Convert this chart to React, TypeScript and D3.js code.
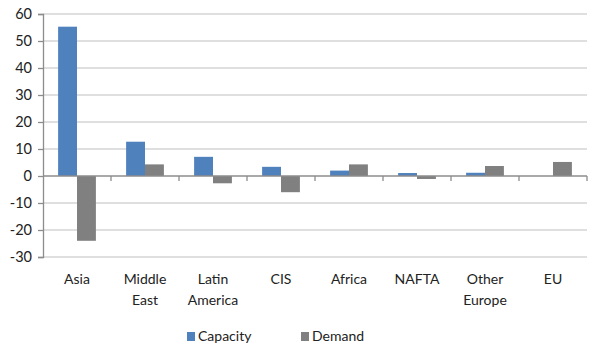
import { useEffect, useRef } from 'react';
import * as d3 from 'd3';

const regions = ['Asia', 'Middle East', 'Latin America', 'CIS', 'Africa', 'NAFTA', 'Other Europe', 'EU'];
const regionLines = [['Asia'], ['Middle', 'East'], ['Latin', 'America'], ['CIS'], ['Africa'], ['NAFTA'], ['Other', 'Europe'], ['EU']];
const capacity = [55.3, 12.7, 7.1, 3.4, 2.0, 1.1, 1.2, 0];
const demand = [-24, 4.3, -2.7, -6, 4.3, -1.1, 3.7, 5.2];
const yTicks = [-30, -20, -10, 0, 10, 20, 30, 40, 50, 60];
const seriesNames = ['Capacity', 'Demand'];
const seriesColors = ['#4F81BD', '#808080'];

export default function App() {
  const svgRef = useRef<SVGSVGElement>(null);
  const width = 602;
  const height = 352;

  useEffect(() => {
    if (!svgRef.current) return;
    const svg = d3.select(svgRef.current);
    svg.selectAll('*').remove();

    const margin = { top: 14, right: 15, bottom: 95, left: 43 };
    const innerWidth = width - margin.left - margin.right;
    const innerHeight = height - margin.top - margin.bottom;
    const font = 'Lato, "Open Sans", sans-serif';

    const g = svg.append('g').attr('transform', `translate(${margin.left},${margin.top})`);

    const x = d3.scaleBand().domain(regions).range([0, innerWidth]).paddingInner(0).paddingOuter(0);
    const x1 = d3.scaleBand().domain(seriesNames).range([0, x.bandwidth()]).paddingOuter(0.8).paddingInner(0);
    const y = d3.scaleLinear().domain([-30, 60]).range([innerHeight, 0]);

    // gridlines
    g.selectAll('.grid')
      .data(yTicks.filter((t) => t !== 0 && t !== -30))
      .join('line')
      .attr('x1', 0)
      .attr('x2', innerWidth)
      .attr('y1', (d) => y(d))
      .attr('y2', (d) => y(d))
      .attr('stroke', '#BFBFBF')
      .attr('stroke-width', 1.2);

    // bars
    const series = [capacity, demand];
    series.forEach((vals, si) => {
      g.selectAll(`.bar${si}`)
        .data(vals)
        .join('rect')
        .attr('x', (_, i) => (x(regions[i]) ?? 0) + (x1(seriesNames[si]) ?? 0))
        .attr('width', x1.bandwidth())
        .attr('y', (d) => y(Math.max(0, d)))
        .attr('height', (d) => Math.abs(y(d) - y(0)))
        .attr('fill', seriesColors[si]);
    });

    // zero line + category ticks
    g.append('line')
      .attr('x1', 0)
      .attr('x2', innerWidth)
      .attr('y1', y(0))
      .attr('y2', y(0))
      .attr('stroke', '#8C8C8C')
      .attr('stroke-width', 1.3);
    g.selectAll('.ctick')
      .data(regions.slice(1).concat(['end']))
      .join('line')
      .attr('x1', (_, i) => (i + 1) * x.bandwidth())
      .attr('x2', (_, i) => (i + 1) * x.bandwidth())
      .attr('y1', y(0))
      .attr('y2', y(0) + 5)
      .attr('stroke', '#8C8C8C')
      .attr('stroke-width', 1.3);

    // bottom line at -30
    g.append('line')
      .attr('x1', 0)
      .attr('x2', innerWidth)
      .attr('y1', y(-30))
      .attr('y2', y(-30))
      .attr('stroke', '#BFBFBF')
      .attr('stroke-width', 1.2);

    // y axis (plain hyphen for negatives, as in the source)
    const yAxis = g.append('g').call(
      d3
        .axisLeft(y)
        .tickValues(yTicks)
        .tickFormat((d) => String(d))
        .tickSize(5)
        .tickPadding(6) as never
    );
    yAxis.select('.domain').attr('stroke', '#8C8C8C').attr('stroke-width', 1.3);
    yAxis.selectAll('.tick line').attr('stroke', '#8C8C8C').attr('stroke-width', 1.3);
    yAxis
      .selectAll('.tick text')
      .attr('fill', '#222')
      .style('font-family', font)
      .style('font-size', '14.5px');

    // category labels
    const labels = g
      .selectAll('.clabel')
      .data(regionLines)
      .join('text')
      .attr('text-anchor', 'middle')
      .attr('fill', '#222')
      .style('font-family', font)
      .style('font-size', '14px')
      .attr('transform', (_, i) => `translate(${(x(regions[i]) ?? 0) + x.bandwidth() / 2},${innerHeight + 27})`);
    labels
      .selectAll('tspan')
      .data((d) => d)
      .join('tspan')
      .attr('x', 0)
      .attr('dy', (_, i) => (i === 0 ? 0 : 21))
      .text((d) => d);

    // legend
    const legend = svg.append('g').attr('transform', `translate(0,341)`);
    const legendX = [187, 301];
    seriesNames.forEach((name, i) => {
      legend
        .append('rect')
        .attr('x', legendX[i])
        .attr('y', -9)
        .attr('width', 8)
        .attr('height', 9)
        .attr('fill', seriesColors[i]);
      legend
        .append('text')
        .attr('x', legendX[i] + 11)
        .attr('y', 0)
        .attr('fill', '#222')
        .style('font-family', font)
        .style('font-size', '14px')
        .text(name);
    });
  }, []);

  return <svg ref={svgRef} width={width} height={height} style={{ position: 'absolute', left: 0, top: 0, background: '#fff' }} />;
}
